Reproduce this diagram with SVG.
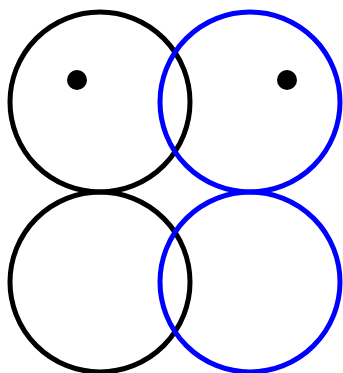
<svg xmlns="http://www.w3.org/2000/svg" width="343" height="373" viewBox="0 0 343 373">
<style>
.c{fill:none;stroke-width:5}
.k{stroke:#000}
.b{stroke:#0000ff}
.d{fill:#000}
</style>
<rect width="343" height="373" fill="#fff"/>
<g id="circle-top-left"><circle class="c k" cx="100" cy="102" r="90"/><circle class="d" cx="77" cy="80" r="10"/></g>
<g id="circle-bottom-left"><circle class="c k" cx="100" cy="282" r="90"/></g>
<g id="circle-top-right"><circle class="c b" cx="250" cy="102" r="90"/><circle class="d" cx="287" cy="80" r="10"/></g>
<g id="circle-bottom-right"><circle class="c b" cx="250" cy="282" r="90"/></g>
<g id="connectors"/>
</svg>
